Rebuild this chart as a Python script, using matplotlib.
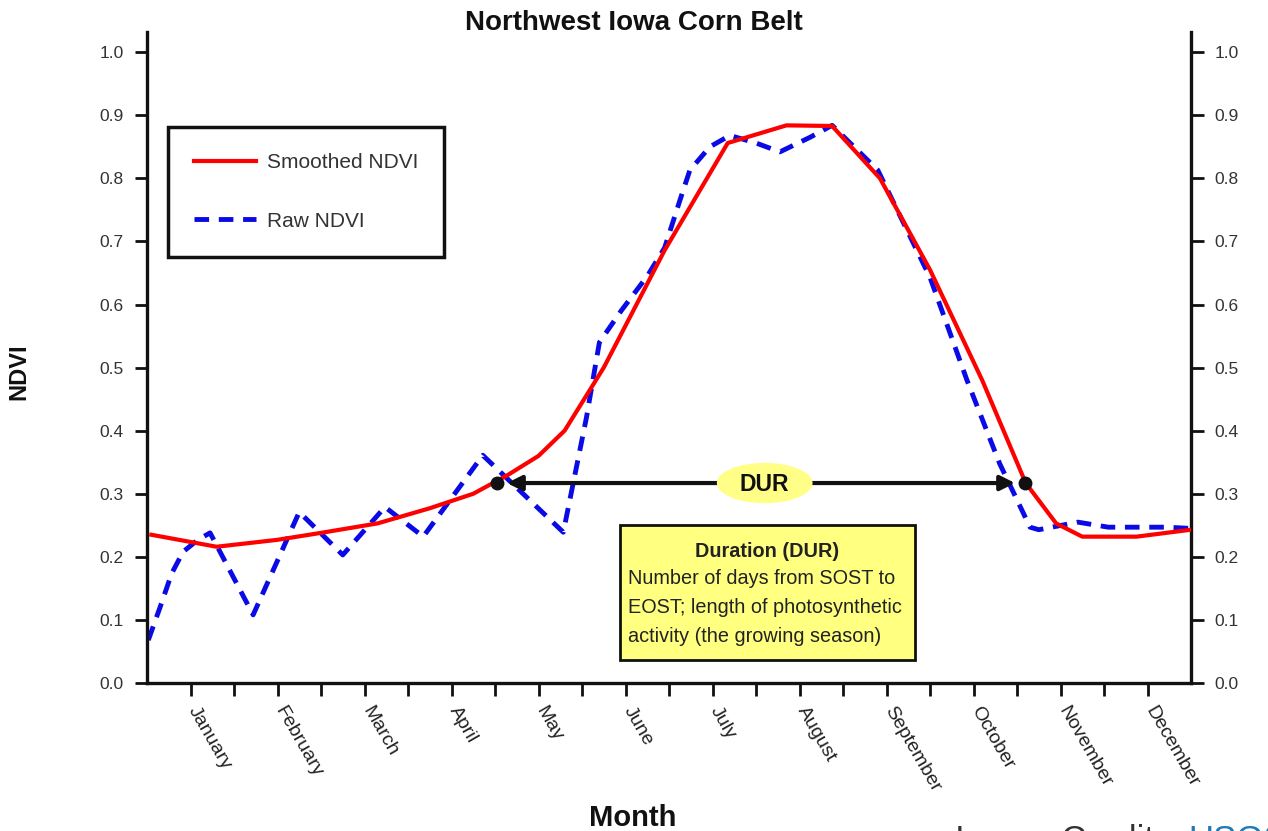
import matplotlib
matplotlib.use("Agg")
import matplotlib.pyplot as plt
from matplotlib.patches import Ellipse, Rectangle
from matplotlib.transforms import ScaledTranslation

plt.rcParams['font.family'] = ['Liberation Sans', 'DejaVu Sans']

# x positions are in half-month steps (0 = start of January, 24 = end of December)
months = ['January', 'February', 'March', 'April', 'May', 'June',
          'July', 'August', 'September', 'October', 'November', 'December']
month_ticks = [1, 3, 5, 7, 9, 11, 13, 15, 17, 19, 21, 23]

smooth_x = [0.1, 1.6, 3.0, 4.0, 5.3, 6.5, 7.5, 8.3, 9.0, 9.6, 10.5, 11.9,
            13.35, 14.7, 15.75, 16.85, 18.0, 19.2, 20.2, 20.9, 21.5, 22.75, 24.0]
smooth_ndvi = [0.235, 0.216, 0.227, 0.238, 0.253, 0.277, 0.300, 0.330, 0.360,
               0.400, 0.500, 0.686, 0.856, 0.884, 0.883, 0.800, 0.655, 0.480,
               0.317, 0.253, 0.232, 0.232, 0.243]

raw_x = [0.03, 0.3, 0.57, 0.83, 1.17, 1.45, 2.44, 3.5, 4.5, 5.47, 6.35, 7.72,
         9.57, 10.1, 10.4, 10.9, 11.5, 11.9, 12.25, 12.48, 12.94, 13.4, 14.0,
         14.55, 15.24, 15.75, 16.8, 18.0, 18.85, 19.6, 20.3, 20.5, 21.4, 22.1,
         23.45, 24.0]
raw_ndvi = [0.068, 0.120, 0.174, 0.208, 0.227, 0.238, 0.108, 0.271, 0.203,
            0.279, 0.232, 0.361, 0.239, 0.420, 0.540, 0.590, 0.645, 0.690,
            0.765, 0.813, 0.850, 0.868, 0.856, 0.842, 0.865, 0.884, 0.813,
            0.643, 0.480, 0.348, 0.247, 0.243, 0.255, 0.247, 0.247, 0.245]

sost_x, eost_x, dur_y = 8.05, 20.18, 0.317

fig = plt.figure(figsize=(12.68, 8.31), dpi=100)
ax = fig.add_axes([147/1268, 1 - 683/831, 1044/1268, 651/831])

ax.plot(raw_x, raw_ndvi, color='#0a0ae6', lw=3.5, linestyle=(0, (3, 2)),
        label='Raw NDVI', zorder=2)
ax.plot(smooth_x, smooth_ndvi, color='#ff0000', lw=3, label='Smoothed NDVI', zorder=3)

# duration arrow
ax.annotate('', xy=(sost_x, dur_y), xytext=(eost_x, dur_y),
            arrowprops=dict(arrowstyle='<|-|>', lw=3, color='#111111',
                            mutation_scale=22, shrinkA=7, shrinkB=7), zorder=4)
ax.plot([sost_x, eost_x], [dur_y, dur_y], 'o', color='#111111', ms=9, zorder=5)
ax.add_patch(Ellipse((14.2, dur_y), 2.2, 0.064, facecolor='#ffff88',
                     edgecolor='none', zorder=6))
ax.text(14.2, dur_y - 0.003, 'DUR', ha='center', va='center', fontsize=16.5,
        fontweight='bold', color='#111111', zorder=7)

# description box
ax.add_patch(Rectangle((10.87, 0.036), 6.79, 0.214, facecolor='#ffff80',
                       edgecolor='#111111', lw=2, zorder=6))
ax.text(14.25, 0.209, 'Duration (DUR)', ha='center', va='center', fontsize=14.3,
        fontweight='bold', color='#222222', zorder=7)
desc = ['Number of days from SOST to', 'EOST; length of photosynthetic',
        'activity (the growing season)']
for i, line in enumerate(desc):
    ax.text(11.06, 0.166 - i * 0.0458, line, ha='left', va='center', fontsize=14.3,
            color='#222222', zorder=7)

ax.set_xlim(0, 24)
ax.set_ylim(0, 1.032)
ax.set_yticks([i / 10 for i in range(11)])
ax.set_yticklabels([f'{i / 10:.1f}' for i in range(11)])
ax.set_xticks(range(1, 24))
ax.set_xticklabels(['' if t not in month_ticks else months[month_ticks.index(t)]
                    for t in range(1, 24)],
                   rotation=-60, ha='left', va='top', rotation_mode='anchor')

ax.tick_params(axis='y', left=True, right=True, labelleft=True, labelright=True,
               direction='out', length=9, width=2, labelsize=12.5, pad=8,
               colors='#111111', labelcolor='#333333')
ax.tick_params(axis='x', direction='out', length=9, width=2, labelsize=14, pad=4,
               colors='#111111', labelcolor='#222222')
for lab in ax.get_xticklabels():
    lab.set_transform(lab.get_transform() + ScaledTranslation(9/100, -2/100, fig.dpi_scale_trans))

ax.spines['top'].set_visible(False)
for s in ['left', 'right', 'bottom']:
    ax.spines[s].set_linewidth(2.4)
    ax.spines[s].set_color('#111111')

handles, labels = ax.get_legend_handles_labels()
leg = ax.legend(handles[::-1], labels[::-1], loc='upper left',
                bbox_to_anchor=(0.020, 0.854), borderaxespad=0, frameon=True,
                fancybox=False, edgecolor='#111111', framealpha=1, borderpad=1.25,
                labelspacing=1.9, handlelength=3.0, handletextpad=0.5,
                fontsize=15)
leg.get_frame().set_linewidth(2.5)
for t in leg.get_texts():
    t.set_color('#333333')

ax.set_ylabel('NDVI', fontsize=17, fontweight='bold', color='#111111')
ax.yaxis.set_label_coords(-0.112, 0.478)

fig.text(0.5, 1 - 23/831, 'Northwest Iowa Corn Belt', ha='center', va='center',
         fontsize=20, fontweight='bold', color='#111111')
fig.text(633/1268, 1 - 818/831, 'Month', ha='center', va='center',
         fontsize=21, fontweight='bold', color='#111111')

# credit line, partly cut off at the bottom edge as in the original
fig.text(955/1268, -0.023, 'Image Credit: ', ha='left', va='baseline',
         fontsize=25, color='#333333')
fig.text(1188/1268, -0.023, 'USGS', ha='left', va='baseline',
         fontsize=25, color='#1f7ab8')

fig.savefig('out.png', dpi=100)
